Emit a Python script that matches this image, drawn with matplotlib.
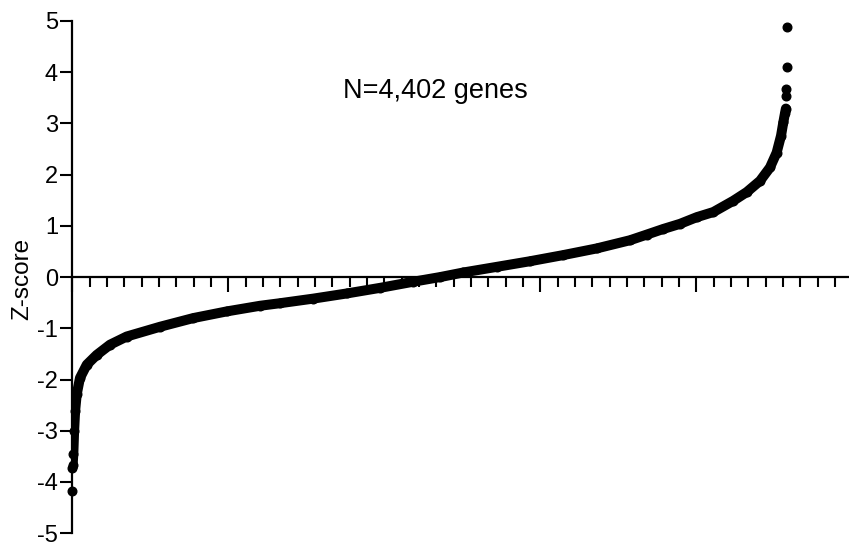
import matplotlib as mpl
mpl.use('Agg')
import matplotlib.pyplot as plt
from matplotlib.ticker import FixedLocator, NullFormatter
import numpy as np

plt.rcParams['font.family'] = ['Liberation Sans', 'DejaVu Sans']
plt.rcParams['axes.unicode_minus'] = False

# sorted gene z-scores (rank, z)
band_rank = [2, 3, 7, 12, 18, 28, 48, 90, 151, 233, 336, 541, 746, 952, 1157,
             1280, 1486, 1691, 1897, 2102, 2266, 2410, 2616, 2821, 3026, 3232,
             3437, 3540, 3642, 3745, 3848, 3950, 4073, 4156, 4238, 4299, 4340,
             4367, 4381, 4392, 4397]
band_z = [-3.72, -3.66, -3.46, -3.00, -2.62, -2.29, -1.97, -1.71, -1.52, -1.32,
          -1.16, -0.97, -0.80, -0.67, -0.56, -0.51, -0.42, -0.32, -0.21, -0.09,
          0.00, 0.09, 0.20, 0.31, 0.43, 0.56, 0.72, 0.83, 0.94, 1.04, 1.17,
          1.27, 1.49, 1.66, 1.88, 2.14, 2.43, 2.76, 3.02, 3.21, 3.29]
# isolated points at both ends
tail_rank = [1, 4399, 4400, 4401, 4402]
tail_z = [-4.17, 3.53, 3.68, 4.10, 4.88]

n_genes = 4402
tick_step = 106.8   # spacing of the small ticks on the rank axis

fig = plt.figure(figsize=(8.49, 5.48), dpi=100)
ax = fig.add_axes([0.0852, 0.027, 0.9137, 0.9347])

ax.plot(band_rank, band_z, color='black', lw=7.2, solid_capstyle='round',
        solid_joinstyle='round', zorder=3)
ax.plot(band_rank + tail_rank, band_z + tail_z, 'o', color='black', ms=6.2,
        zorder=4, clip_on=False)

ax.set_xlim(1, 4780)
ax.set_ylim(-5, 5)

for s in ['top', 'right']:
	ax.spines[s].set_visible(False)
ax.spines['bottom'].set_position(('data', 0))
ax.spines['bottom'].set_linewidth(1.6)
ax.spines['left'].set_linewidth(1.6)

minor = [1 + tick_step * k for k in range(45) if k % 9 != 0]
major = [1 + tick_step * k for k in range(0, 45, 9)]
ax.xaxis.set_major_locator(FixedLocator(major))
ax.xaxis.set_minor_locator(FixedLocator(minor))
ax.xaxis.set_major_formatter(NullFormatter())
ax.tick_params(axis='x', which='major', direction='out', length=10.5, width=1.5)
ax.tick_params(axis='x', which='minor', direction='out', length=7, width=1.5)

ax.set_yticks(range(-5, 6))
ax.tick_params(axis='y', direction='out', length=8.4, width=1.5, pad=2,
               labelsize=17)

ax.text(1668, 3.49, 'N=4,402 genes', fontsize=19.5, ha='left', va='baseline')
fig.text(22 / 849, 0.4916, 'Z-score', fontsize=17.5, rotation=90,
         ha='center', va='center')

plt.savefig('out.png', dpi=100)
